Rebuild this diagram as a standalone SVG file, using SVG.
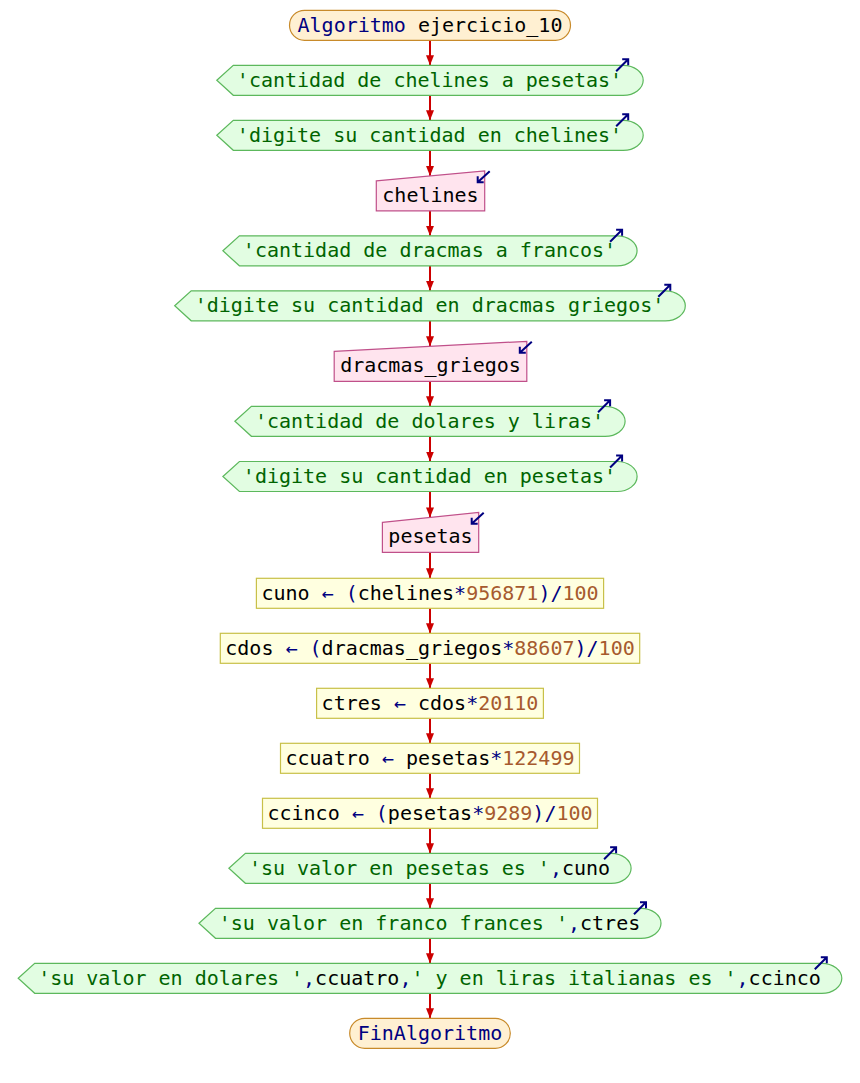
<svg xmlns="http://www.w3.org/2000/svg" width="860" height="1083" viewBox="0 0 860 1083">
  <style>
    text { font-family: "DejaVu Sans Mono", "Liberation Mono", monospace; font-size: 20px; white-space: pre; fill: #000000; }
    .mid { text-anchor: middle; }
    .kw { fill: #000080; }
    .op { fill: #000080; }
    .num { fill: #a65a2e; }
    .str { fill: #006400; }
    .term { fill: #fff0d2; stroke: #c88a2a; stroke-width: 1.2; }
    .out { fill: #e2fde2; stroke: #5cb85c; stroke-width: 1.2; }
    .in { fill: #ffe4ee; stroke: #c0508a; stroke-width: 1.2; }
    .proc { fill: #ffffe0; stroke: #c8c048; stroke-width: 1.2; }
    .flow { stroke: #cc0000; stroke-width: 2; fill: none; marker-end: url(#head); }
    .ico { stroke: #000080; stroke-width: 2; fill: none; }
  </style>
  <defs>
    <marker id="head" markerUnits="userSpaceOnUse" markerWidth="10" markerHeight="8" refX="10" refY="4" orient="auto">
      <path d="M0,0 L10,4 L0,8 Z" fill="#cc0000"/>
    </marker>
    <!-- small corner glyph: output marker (up-right) -->
    <g id="icoOut">
      <path class="ico" d="M-12,12 L0,0 M-6,0 L0,0 L0,6"/>
    </g>
    <!-- small corner glyph: input marker (down-left) -->
    <g id="icoIn">
      <path class="ico" d="M12,-11 L0,0 M6,0 L0,0 L0,-6"/>
    </g>
  </defs>

  <!-- connectors -->
  <g id="connectors">
    <line class="flow" x1="430" y1="40.3" x2="430" y2="65.3"/>
    <line class="flow" x1="430" y1="95.3" x2="430" y2="120.3"/>
    <line class="flow" x1="430" y1="150.3" x2="430" y2="175.9"/>
    <line class="flow" x1="430" y1="210.8" x2="430" y2="235.8"/>
    <line class="flow" x1="430" y1="265.8" x2="430" y2="290.8"/>
    <line class="flow" x1="430" y1="320.8" x2="430" y2="346.3"/>
    <line class="flow" x1="430" y1="381.3" x2="430" y2="406.3"/>
    <line class="flow" x1="430" y1="436.3" x2="430" y2="461.5"/>
    <line class="flow" x1="430" y1="491.5" x2="430" y2="517.4"/>
    <line class="flow" x1="430" y1="552.3" x2="430" y2="578.3"/>
    <line class="flow" x1="430" y1="608.3" x2="430" y2="633.3"/>
    <line class="flow" x1="430" y1="663.3" x2="430" y2="688.3"/>
    <line class="flow" x1="430" y1="718.3" x2="430" y2="743.3"/>
    <line class="flow" x1="430" y1="773.3" x2="430" y2="798.3"/>
    <line class="flow" x1="430" y1="828.3" x2="430" y2="853.3"/>
    <line class="flow" x1="430" y1="883.3" x2="430" y2="908.3"/>
    <line class="flow" x1="430" y1="938.3" x2="430" y2="963.3"/>
    <line class="flow" x1="430" y1="993.3" x2="430" y2="1018.3"/>
  </g>

  <!-- start -->
  <g id="start">
    <rect class="term" x="289.5" y="10.3" width="281" height="30" rx="15" ry="15"/>
    <text class="mid" x="430" y="31.5"><tspan class="kw">Algoritmo</tspan> ejercicio_10</text>
  </g>

  <!-- Escribir 'cantidad de chelines a pesetas' -->
  <g id="out1">
    <path class="out" d="M216.8,80.3 L233.3,65.3 H623.2 A20,15 0 0 1 623.2,95.3 H233.3 Z"/>
    <text class="mid str" x="429.5" y="86.5">'cantidad de chelines a pesetas'</text>
    <use href="#icoOut" x="628.2" y="59.3"/>
  </g>

  <g id="out2">
    <path class="out" d="M216.8,135.3 L233.3,120.3 H623.2 A20,15 0 0 1 623.2,150.3 H233.3 Z"/>
    <text class="mid str" x="429.5" y="141.5">'digite su cantidad en chelines'</text>
    <use href="#icoOut" x="628.2" y="114.3"/>
  </g>

  <!-- Leer chelines -->
  <g id="in1">
    <path class="in" d="M376.3,180.8 L484.7,170.8 V210.8 H376.3 Z"/>
    <text class="mid" x="430.5" y="201.8">chelines</text>
    <use href="#icoIn" x="477.7" y="182.3"/>
  </g>

  <g id="out3">
    <path class="out" d="M222.9,250.8 L239.4,235.8 H617.1 A20,15 0 0 1 617.1,265.8 H239.4 Z"/>
    <text class="mid str" x="429.5" y="257">'cantidad de dracmas a francos'</text>
    <use href="#icoOut" x="622.1" y="229.8"/>
  </g>

  <g id="out4">
    <path class="out" d="M174.7,305.8 L191.2,290.8 H665.3 A20,15 0 0 1 665.3,320.8 H191.2 Z"/>
    <text class="mid str" x="429.5" y="312">'digite su cantidad en dracmas griegos'</text>
    <use href="#icoOut" x="670.3" y="284.8"/>
  </g>

  <!-- Leer dracmas_griegos -->
  <g id="in2">
    <path class="in" d="M334.2,351.3 L526.8,341.3 V381.3 H334.2 Z"/>
    <text class="mid" x="430.5" y="372.3">dracmas_griegos</text>
    <use href="#icoIn" x="519.8" y="352.8"/>
  </g>

  <g id="out5">
    <path class="out" d="M234.9,421.3 L251.4,406.3 H605.1 A20,15 0 0 1 605.1,436.3 H251.4 Z"/>
    <text class="mid str" x="429.5" y="427.5">'cantidad de dolares y liras'</text>
    <use href="#icoOut" x="610.1" y="400.3"/>
  </g>

  <g id="out6">
    <path class="out" d="M222.9,476.5 L239.4,461.5 H617.1 A20,15 0 0 1 617.1,491.5 H239.4 Z"/>
    <text class="mid str" x="429.5" y="482.7">'digite su cantidad en pesetas'</text>
    <use href="#icoOut" x="622.1" y="455.5"/>
  </g>

  <!-- Leer pesetas -->
  <g id="in3">
    <path class="in" d="M382.4,522.3 L478.7,512.3 V552.3 H382.4 Z"/>
    <text class="mid" x="430.5" y="543.3">pesetas</text>
    <use href="#icoIn" x="471.7" y="523.8"/>
  </g>

  <!-- assignments -->
  <g id="p1">
    <rect class="proc" x="256.4" y="578.3" width="347.2" height="30"/>
    <text class="mid" x="430" y="599.5">cuno<tspan class="op"> ← (</tspan>chelines<tspan class="op">*</tspan><tspan class="num">956871</tspan><tspan class="op">)/</tspan><tspan class="num">100</tspan></text>
  </g>

  <g id="p2">
    <rect class="proc" x="220.3" y="633.3" width="419.4" height="30"/>
    <text class="mid" x="430" y="654.5">cdos<tspan class="op"> ← (</tspan>dracmas_griegos<tspan class="op">*</tspan><tspan class="num">88607</tspan><tspan class="op">)/</tspan><tspan class="num">100</tspan></text>
  </g>

  <g id="p3">
    <rect class="proc" x="316.6" y="688.3" width="226.8" height="30"/>
    <text class="mid" x="430" y="709.5">ctres<tspan class="op"> ← </tspan>cdos<tspan class="op">*</tspan><tspan class="num">20110</tspan></text>
  </g>

  <g id="p4">
    <rect class="proc" x="280.5" y="743.3" width="299" height="30"/>
    <text class="mid" x="430" y="764.5">ccuatro<tspan class="op"> ← </tspan>pesetas<tspan class="op">*</tspan><tspan class="num">122499</tspan></text>
  </g>

  <g id="p5">
    <rect class="proc" x="262.5" y="798.3" width="335" height="30"/>
    <text class="mid" x="430" y="819.5">ccinco<tspan class="op"> ← (</tspan>pesetas<tspan class="op">*</tspan><tspan class="num">9289</tspan><tspan class="op">)/</tspan><tspan class="num">100</tspan></text>
  </g>

  <!-- results -->
  <g id="out7">
    <path class="out" d="M228.9,868.3 L245.4,853.3 H611.1 A20,15 0 0 1 611.1,883.3 H245.4 Z"/>
    <text class="mid" x="429.5" y="874.5"><tspan class="str">'su valor en pesetas es '</tspan><tspan class="op">,</tspan>cuno</text>
    <use href="#icoOut" x="616.1" y="847.3"/>
  </g>

  <g id="out8">
    <path class="out" d="M199.0,923.3 L215.5,908.3 H641.0 A20,15 0 0 1 641.0,938.3 H215.5 Z"/>
    <text class="mid" x="429.5" y="929.5"><tspan class="str">'su valor en franco frances '</tspan><tspan class="op">,</tspan>ctres</text>
    <use href="#icoOut" x="646.0" y="902.3"/>
  </g>

  <g id="out9">
    <path class="out" d="M18.2,978.3 L34.7,963.3 H821.8 A20,15 0 0 1 821.8,993.3 H34.7 Z"/>
    <text class="mid" x="429.5" y="984.5"><tspan class="str">'su valor en dolares '</tspan><tspan class="op">,</tspan>ccuatro<tspan class="op">,</tspan><tspan class="str">' y en liras italianas es '</tspan><tspan class="op">,</tspan>ccinco</text>
    <use href="#icoOut" x="826.8" y="957.3"/>
  </g>

  <!-- end -->
  <g id="end">
    <rect class="term" x="349.7" y="1018.3" width="160.6" height="30" rx="15" ry="15"/>
    <text class="mid kw" x="430" y="1039.5">FinAlgoritmo</text>
  </g>
</svg>
